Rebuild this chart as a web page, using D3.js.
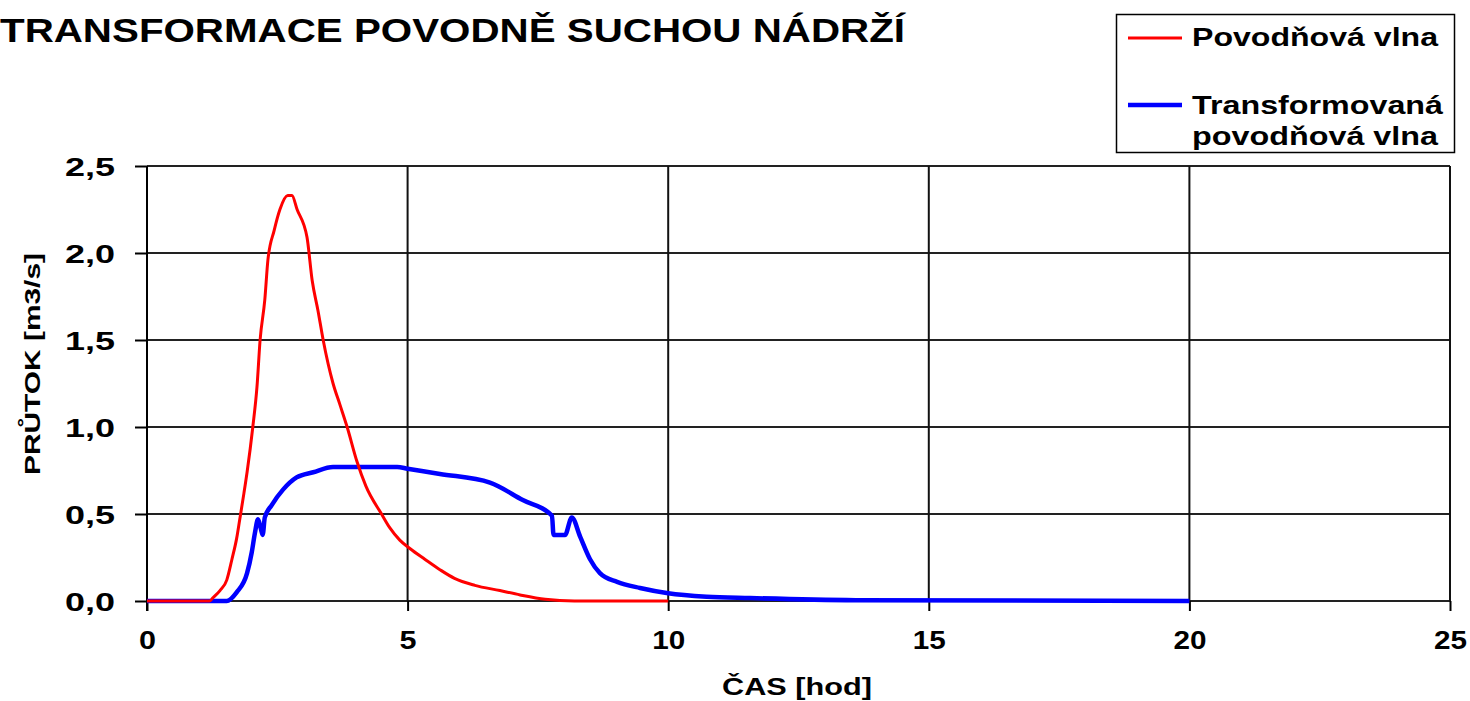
<!DOCTYPE html>
<html>
<head>
<meta charset="utf-8">
<script src="https://cdn.jsdelivr.net/npm/d3@7"></script>
<style>
 body { margin: 0; background: #fff; }
 text { font-family: "Liberation Sans", Arial, sans-serif; font-weight: bold; fill: #000; }
</style>
</head>
<body>
<svg id="chart" width="1470" height="701"></svg>
<script>
// hodnoty
var casVlna =   [0, 1.2, 1.27, 1.4, 1.53, 1.63, 1.72, 1.78, 1.86, 1.92, 2.03, 2.11, 2.17, 2.26, 2.32, 2.44, 2.55, 2.7, 2.78, 2.88, 3.07, 3.17, 3.28, 3.38, 3.57, 3.7, 3.84, 4.03, 4.2, 4.5, 4.66, 4.85, 5.05, 5.33, 5.62, 5.9, 6.29, 6.77, 7.16, 7.64, 8.2, 10];
var prutokVlna = [0, 0, 0.02, 0.06, 0.12, 0.24, 0.36, 0.47, 0.62, 0.74, 1.0, 1.23, 1.5, 1.73, 1.96, 2.13, 2.25, 2.33, 2.33, 2.25, 2.09, 1.84, 1.67, 1.5, 1.25, 1.13, 1.0, 0.8, 0.66, 0.5, 0.42, 0.35, 0.3, 0.24, 0.18, 0.13, 0.09, 0.06, 0.035, 0.01, 0, 0];

var casTrans =   [0, 1.53, 1.72, 1.92, 2.01, 2.07, 2.13, 2.18, 2.22, 2.26, 2.39, 2.61, 2.87, 3.19, 3.57, 4.8, 5.0, 5.62, 6.58, 7.21, 7.77, 7.8, 7.83, 8.02, 8.15, 8.31, 8.5, 8.69, 9.02, 9.46, 10.0, 10.74, 11.57, 13.6, 20];
var prutokTrans = [0, 0, 0.05, 0.16, 0.28, 0.39, 0.47, 0.42, 0.38, 0.48, 0.55, 0.64, 0.71, 0.74, 0.77, 0.77, 0.76, 0.73, 0.68, 0.58, 0.49, 0.38, 0.38, 0.38, 0.48, 0.37, 0.24, 0.16, 0.11, 0.075, 0.045, 0.025, 0.017, 0.005, 0];

var xTicks = [0, 5, 10, 15, 20, 25];
var yTicks = [0, 0.5, 1.0, 1.5, 2.0, 2.5];

var svg = d3.select("#chart");
var mLeft = 147, mRight = 1450, mTop = 166, mBottom = 601;

var x = d3.scaleLinear().domain([0, 25]).range([mLeft, mRight]);
var y = d3.scaleLinear().domain([0, 2.5]).range([mBottom, mTop]);

// text v originale je roztazeny do sirky
function stretch(sel, w) {
  sel.attr("textLength", w).attr("lengthAdjust", "spacingAndGlyphs");
}

// mrizka
svg.append("g").selectAll("line").data(yTicks).enter().append("line")
  .attr("x1", mLeft).attr("x2", mRight)
  .attr("y1", d => y(d)).attr("y2", d => y(d))
  .style("stroke", "#222").style("stroke-width", 2);
svg.append("g").selectAll("line").data(xTicks).enter().append("line")
  .attr("x1", d => x(d)).attr("x2", d => x(d))
  .attr("y1", mTop).attr("y2", mBottom)
  .style("stroke", "#111").style("stroke-width", 2);

// osy
var yAxis = svg.append("g").attr("transform", "translate(" + mLeft + ",0)")
  .call(d3.axisLeft(y).tickValues(yTicks).tickSize(12).tickPadding(20)
    .tickFormat(d => d3.format(".1f")(d).replace(".", ",")));
yAxis.select(".domain").attr("d", "M0," + mTop + "V" + (mBottom + 10)).style("stroke", "#000").style("stroke-width", 2);
yAxis.selectAll(".tick line").style("stroke", "#000").style("stroke-width", 2);
yAxis.selectAll("text").style("font-size", "25px").attr("dy", "0.36em").call(stretch, 50);

var xAxis = svg.append("g").attr("transform", "translate(0," + mBottom + ")")
  .call(d3.axisBottom(x).tickValues(xTicks).tickSize(10).tickPadding(18));
xAxis.select(".domain").remove();
xAxis.selectAll(".tick line").style("stroke", "#000").style("stroke-width", 2);
xAxis.selectAll("text").style("font-size", "26px").attr("dy", null).attr("y", 48)
  .each(function(d) { stretch(d3.select(this), d >= 10 ? 33 : 17); });

var line = d3.line().x(d => x(d[0])).y(d => y(d[1])).curve(d3.curveMonotoneX);

svg.append("path")
  .datum(d3.zip(casTrans, prutokTrans))
  .attr("d", line)
  .style("fill", "none").style("stroke", "#0000ff").style("stroke-width", 4.5);

svg.append("path")
  .datum(d3.zip(casVlna, prutokVlna))
  .attr("d", line)
  .style("fill", "none").style("stroke", "#ff0000").style("stroke-width", 3);

// popisky
svg.append("text").attr("x", 0).attr("y", 42)
  .style("font-size", "34px").text("TRANSFORMACE POVODNĚ SUCHOU NÁDRŽÍ").call(stretch, 905);

svg.append("text").attr("x", 797).attr("y", 695)
  .attr("text-anchor", "middle").style("font-size", "23px").text("ČAS [hod]").call(stretch, 150);

svg.append("text").attr("transform", "translate(40,364) rotate(-90)")
  .attr("text-anchor", "middle").style("font-size", "22px").text("PRŮTOK [m3/s]").call(stretch, 222);

// legenda
var leg = svg.append("g");
leg.append("rect").attr("x", 1116.5).attr("y", 14.5).attr("width", 338).attr("height", 138)
  .style("fill", "#fff").style("stroke", "#000").style("stroke-width", 1.5);
leg.append("line").attr("x1", 1128).attr("x2", 1182).attr("y1", 38).attr("y2", 38)
  .style("stroke", "#ff0000").style("stroke-width", 3);
leg.append("text").attr("x", 1192).attr("y", 46).style("font-size", "25px").text("Povodňová vlna").call(stretch, 246);
leg.append("line").attr("x1", 1128).attr("x2", 1182).attr("y1", 105).attr("y2", 105)
  .style("stroke", "#0000ff").style("stroke-width", 4.5);
leg.append("text").attr("x", 1192).attr("y", 114).style("font-size", "25px").text("Transformovaná").call(stretch, 251);
leg.append("text").attr("x", 1192).attr("y", 145).style("font-size", "25px").text("povodňová vlna").call(stretch, 246);
</script>
</body>
</html>
